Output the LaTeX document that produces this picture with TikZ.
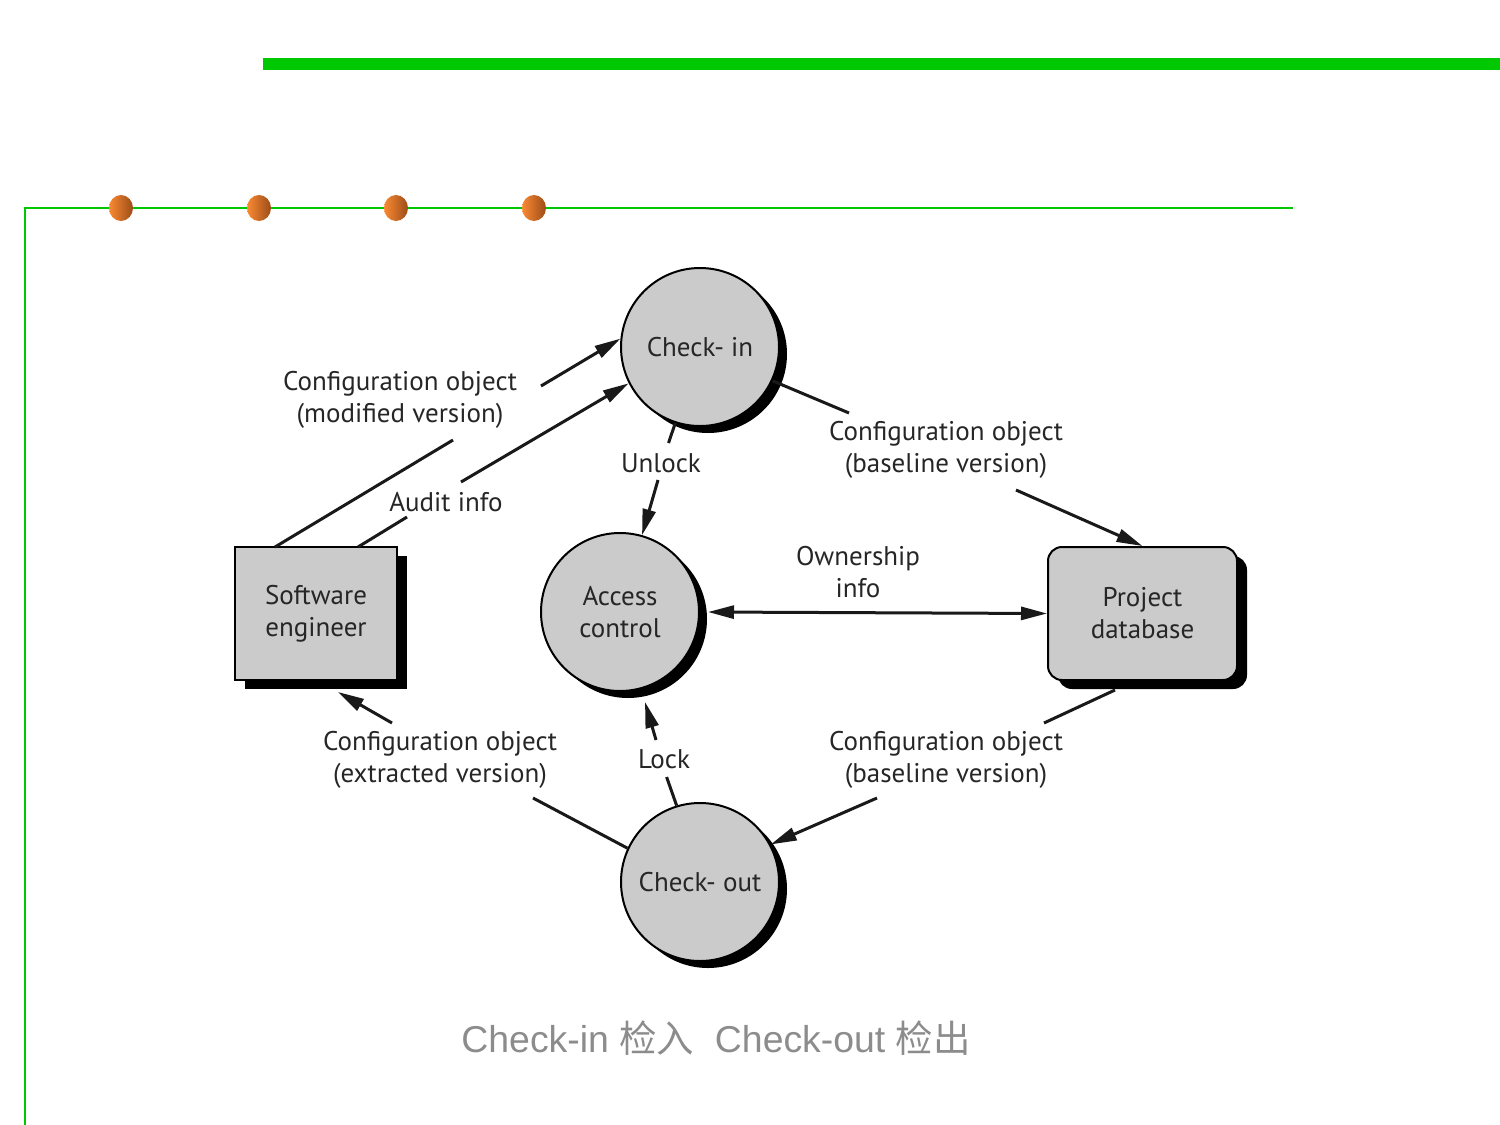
\documentclass[tikz,border=0pt]{standalone}
\usepackage{fontspec}
\setmainfont{PT Sans}
\newfontfamily\capfont{Liberation Sans}
\newfontfamily\cjk{Noto Sans CJK SC}
\usetikzlibrary{arrows.meta,calc}
\definecolor{grn}{HTML}{00C800}
\definecolor{dotL}{HTML}{FA8A32}
\definecolor{dotR}{HTML}{9C4C18}
\definecolor{nodefill}{HTML}{CBCBCB}
\definecolor{captxt}{HTML}{8C8C8C}
\begin{document}
\begin{tikzpicture}[x=1pt,y=-1pt,
  lbl/.style={font=\fontsize{27}{32}\selectfont, text=black!85, align=center, inner sep=0pt},
  proc/.style={circle, draw=black, line width=2pt, fill=nodefill, minimum size=158pt, inner sep=0pt, lbl},
  shad/.style={circle, fill=black, minimum size=158pt, inner sep=0pt},
  boxnode/.style={rectangle, draw=black, line width=2pt, fill=nodefill, minimum width=162pt, minimum height=133pt, inner sep=0pt, lbl},
  boxshad/.style={rectangle, fill=black, minimum width=162pt, minimum height=133pt, inner sep=0pt},
  dbnode/.style={rectangle, rounded corners=14pt, draw=black, line width=2pt, fill=nodefill, minimum width=189pt, minimum height=133pt, inner sep=0pt, lbl},
  dbshad/.style={rectangle, rounded corners=14pt, fill=black, minimum width=189pt, minimum height=133pt, inner sep=0pt},
  conn/.style={line width=3pt, draw=black!90},
  tip/.tip={Triangle[length=26pt,width=13pt]},
  arr/.style={conn, -tip},
]
\useasboundingbox (0,0) rectangle (1500,1125);
% frame decorations
\fill[grn] (263,58) rectangle (1500,70);
\draw[grn, line width=2pt] (25,1125) -- (25,208) -- (1293,208);
\foreach \x in {121,259,396,534}
  \shade[left color=dotL, right color=dotR] (\x,208) ellipse [x radius=12, y radius=13];

% shadows
\node[shad] (cis) at (708,354) {};
\node[shad] (acs) at (628,619) {};
\node[shad] (cos) at (708,889) {};
\node[boxshad] (ses) at (326,622.5) {};
\node[dbshad] (pds) at (1152.5,622.5) {};

% nodes
\node[proc] (ci) at (700,347) {Check- in};
\node[proc] (ac) at (620,612) {Access\\control};
\node[proc] (co) at (700,882) {Check- out};
\node[boxnode] (se) at (316,613.5) {Software\\engineer};
\node[dbnode] (pd) at (1142.5,613.5) {Project\\database};

% labels
\node[lbl] (lmod) at (400,400) {Configuration object\\(modified version)};
\node[lbl] (laud) at (446,502) {Audit info};
\node[lbl] (lunl) at (661,463) {Unlock};
\node[lbl] (lbt) at (946,450) {Configuration object\\(baseline version)};
\node[lbl] (lown) at (858,572) {Ownership\\info};
\node[lbl] (lext) at (440,760) {Configuration object\\(extracted version)};
\node[lbl] (llck) at (664,759) {Lock};
\node[lbl] (lbb) at (946,760) {Configuration object\\(baseline version)};

% connectors
\coordinate (se1) at (275,547); \coordinate (m1) at (453,440); \coordinate (m2) at (541,386);
\draw[conn] (se1) -- (m1); \draw[arr] (m2) -- (ci.174);
\coordinate (se2) at (358,547); \coordinate (a1) at (407,517); \coordinate (a2) at (461,482);
\draw[conn] (se2) -- (a1); \draw[arr] (a2) -- (ci.207);
\coordinate (b1) at (849,413); \coordinate (b2) at (1016,490);
\draw[conn] (ci.-25) -- (b1); \draw[arr] (b2) -- (pd.north);
\coordinate (u1) at (668.5,443); \coordinate (u2) at (658,480);
\draw[conn] (ci.-108) -- (u1); \draw[arr] (u2) -- (ac.74);
\draw[conn, tip-tip] ([xshift=8pt]ac.east) -- (pd.west);
\coordinate (pd1) at (1115,690); \coordinate (c1) at (1044,723); \coordinate (c2) at (877,798);
\draw[conn] (pd1) -- (c1); \draw[arr] (c2) -- (co.28);
\coordinate (e1) at (533,798); \coordinate (e2) at (392,723); \coordinate (se3) at (338,692);
\draw[conn] (co.155) -- (e1); \draw[arr] (e2) -- (se3);
\coordinate (l1) at (666.6,777); \coordinate (l2) at (656,740); \coordinate (lt) at (645,702);
\draw[conn] (co.107) -- (l1); \draw[arr] (l2) -- (lt);

% caption
\node[text=captxt, inner sep=0pt, font=\capfont\fontsize{37.4}{42}\selectfont] (cap) at (716,1038)
  {Check-in {\cjk 检入}\ \ Check-out {\cjk 检出}};
\end{tikzpicture}
\end{document}
